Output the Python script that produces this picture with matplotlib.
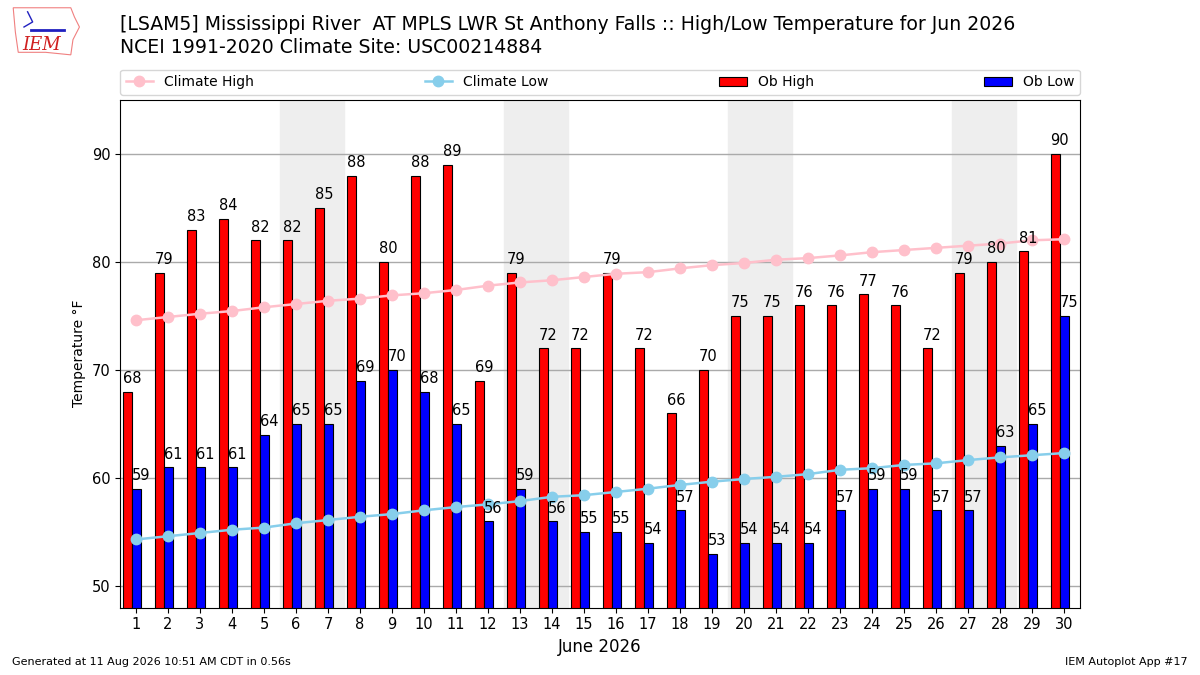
import numpy as np
import matplotlib
matplotlib.use('Agg')
import matplotlib.pyplot as plt
from matplotlib.patches import Polygon

# observed and climatology, June 2026
days = np.arange(1, 31)
ob_high = [68, 79, 83, 84, 82, 82, 85, 88, 80, 88, 89, 69, 79, 72, 72,
           79, 72, 66, 70, 75, 75, 76, 76, 77, 76, 72, 79, 80, 81, 90]
ob_low = [59, 61, 61, 61, 64, 65, 65, 69, 70, 68, 65, 56, 59, 56, 55,
          55, 54, 57, 53, 54, 54, 54, 57, 59, 59, 57, 57, 63, 65, 75]
clim_high = [74.6, 74.9, 75.2, 75.45, 75.8, 76.1, 76.4, 76.6, 76.9, 77.1,
             77.4, 77.8, 78.1, 78.3, 78.6, 78.9, 79.05, 79.4, 79.7, 79.9,
             80.2, 80.35, 80.6, 80.9, 81.1, 81.3, 81.5, 81.7, 82.0, 82.1]
clim_low = [54.3, 54.6, 54.9, 55.2, 55.4, 55.8, 56.1, 56.4, 56.65, 57.0,
            57.3, 57.55, 57.85, 58.25, 58.4, 58.7, 59.0, 59.35, 59.65, 59.9,
            60.1, 60.35, 60.75, 60.9, 61.2, 61.35, 61.65, 61.9, 62.1, 62.3]
weekends = [6, 13, 20, 27]

fig = plt.figure(figsize=(12, 6.75), dpi=100)
ax = fig.add_axes([0.1, 0.1, 0.8, 0.752])

for d in weekends:
    ax.axvspan(d - 0.5, d + 1.5, color='#eeeeee', zorder=0)

ax.plot(days, clim_high, color='pink', marker='o', ms=7.5, lw=1.8,
        label='Climate High', zorder=3)
ax.plot(days, clim_low, color='skyblue', marker='o', ms=7.5, lw=1.8,
        label='Climate Low', zorder=3)
ax.bar(days - 0.42, ob_high, width=0.28, align='edge', fc='r', ec='k',
       lw=0.8, label='Ob High', zorder=2)
ax.bar(days - 0.14, ob_low, width=0.31, align='edge', fc='b', ec='k',
       lw=0.8, label='Ob Low', zorder=2)

for d, hi, lo in zip(days, ob_high, ob_low):
    ax.text(d - 0.42, hi + 0.5, str(hi), ha='left', va='bottom', fontsize=10.5, zorder=4)
    ax.text(d - 0.14, lo + 0.5, str(lo), ha='left', va='bottom', fontsize=10.5, zorder=4)

ax.set_xlim(0.5, 30.5)
ax.set_ylim(48, 95)
ax.set_xticks(days)
ax.set_yticks([50, 60, 70, 80, 90])
ax.tick_params(labelsize=10.5)
ax.yaxis.grid(True, color='#aaaaaa', lw=1)
ax.set_axisbelow(True)
ax.set_xlabel('June 2026', fontsize=12)
ax.set_ylabel('Temperature °F', fontsize=10)

ax.legend(ncol=4, mode='expand', loc='lower left',
          bbox_to_anchor=(0, 1.01, 1, 0.05), fontsize=10, borderaxespad=0)

fig.text(0.1, 0.964, '[LSAM5] Mississippi River  AT MPLS LWR St Anthony Falls :: '
         'High/Low Temperature for Jun 2026', fontsize=13.6, va='center')
fig.text(0.1, 0.930, 'NCEI 1991-2020 Climate Site: USC00214884', fontsize=13.6, va='center')

# simple logo
logo = fig.add_axes([0.008, 0.915, 0.06, 0.075])
logo.axis('off')
logo.set_xlim(0, 1)
logo.set_ylim(0, 1)
logo.add_patch(Polygon([[0.05, 0.98], [0.85, 0.98], [0.9, 0.8], [0.97, 0.6],
                        [0.88, 0.35], [0.85, 0.05], [0.5, 0.1], [0.12, 0.1],
                        [0.08, 0.5]], closed=True, fill=False, ec='#f08080', lw=0.8))
logo.plot([0.3, 0.75], [0.55, 0.55], color='#2020c0', lw=2)
logo.plot([0.25, 0.32, 0.2], [0.9, 0.7, 0.6], color='#2020c0', lw=1)
logo.text(0.45, 0.25, 'IEM', color='#d02020', fontsize=13, family='DejaVu Serif',
          style='italic', ha='center', va='center')

fig.text(0.01, 0.015, 'Generated at 11 Aug 2026 10:51 AM CDT in 0.56s', fontsize=8)
fig.text(0.99, 0.015, 'IEM Autoplot App #17', fontsize=8, ha='right')

fig.savefig('out.png')
